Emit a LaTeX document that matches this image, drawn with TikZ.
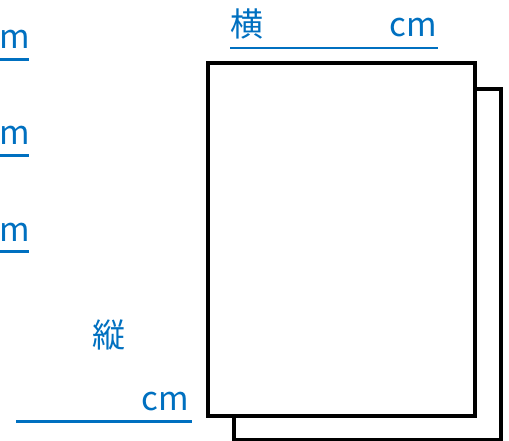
\documentclass[tikz,border=0pt]{standalone}
\usepackage{fontspec}
\setmainfont{Noto Sans CJK JP}
\definecolor{lblue}{HTML}{0070C0}
\begin{document}
\begin{tikzpicture}[x=1pt,y=-1pt,
  sheet/.style={draw=black,fill=white,line width=4pt,rectangle,inner sep=0pt,outer sep=0pt},
  lbl/.style={text=lblue,inner sep=0pt,font=\fontsize{33}{40}\selectfont},
  uline/.style={draw=lblue,line width=2.2pt}]
\useasboundingbox (0,0) rectangle (509,441);
\begin{scope}
\clip (0,0) rectangle (509,441);
\node[sheet,minimum width=267pt,minimum height=351pt,anchor=north west] (back) at (234,89) {};
\node[sheet,minimum width=267pt,minimum height=352.5pt,anchor=north west] (front) at (207.5,63) {};
\end{scope}
% top label
\node[lbl,anchor=base west] (yoko) at (230,37) {横};
\node[lbl,anchor=base east] (yokocm) at (437,37) {cm};
\coordinate (u1a) at (230,48);
\coordinate (u1b) at (438,48);
\draw[uline,line width=1.8pt] (u1a) -- (u1b);
% left m labels
\node[lbl,anchor=base west] (m1) at (-1,49) {m};
\node[lbl,anchor=base west] (m2) at (-1,145) {m};
\node[lbl,anchor=base west] (m3) at (-1,241) {m};
\coordinate (a1) at (0,59.5); \coordinate (b1) at (29,59.5);
\coordinate (a2) at (0,155.5); \coordinate (b2) at (29,155.5);
\coordinate (a3) at (0,251.5); \coordinate (b3) at (29,251.5);
\draw[uline] (a1) -- (b1);
\draw[uline] (a2) -- (b2);
\draw[uline] (a3) -- (b3);
% tate label
\node[lbl,anchor=base west] (tate) at (92,347) {縦};
\node[lbl,anchor=base east] (tatecm) at (189,410) {cm};
\coordinate (u2a) at (16,421.5);
\coordinate (u2b) at (192,421.5);
\draw[uline] (u2a) -- (u2b);
\end{tikzpicture}
\end{document}
